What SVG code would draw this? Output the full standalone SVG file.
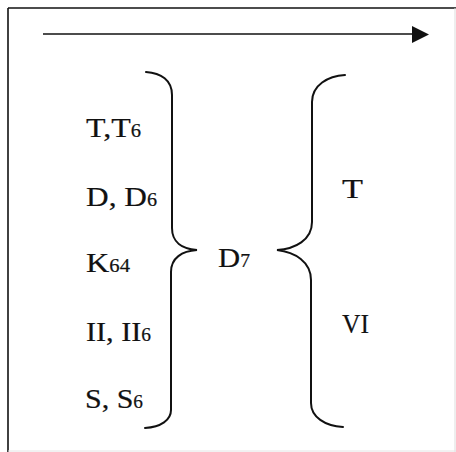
<svg xmlns="http://www.w3.org/2000/svg" width="456" height="452" viewBox="0 0 456 452">
<style>
.t{font-family:"Liberation Serif","Times New Roman",serif;font-size:28px;fill:#111;stroke:#111;stroke-width:0.2}
.s{font-size:18px}
.br{fill:none;stroke:#111;stroke-width:2;stroke-linecap:round}
</style>
<rect x="0" y="0" width="456" height="452" fill="#fff"/>
<g id="frame">
<line x1="8" y1="8" x2="456" y2="8" stroke="#111" stroke-width="1.6"/>
<line x1="8" y1="8" x2="8" y2="452" stroke="#111" stroke-width="1.6"/>
<line x1="455" y1="8" x2="455" y2="452" stroke="#ddd" stroke-width="1"/>
<line x1="8" y1="451" x2="456" y2="451" stroke="#e4e4e4" stroke-width="1"/>
</g>
<g id="connectors">
<line x1="43" y1="34" x2="414" y2="34" stroke="#111" stroke-width="1.6"/>
<polygon points="412,26 429,34.5 412,43" fill="#111"/>
<path class="br" d="M146,72 C161,73 172,80 172,95 L172,228 C172,242 182,249 197,250 C182,251 171,258 171,272 L171,410 C171,420 161,427 145,428"/>
<path class="br" d="M345,75 C328,76 312,85 312,102 L312,222 C312,240 295,249 277,250 C295,252 311,262 311,280 L311,403 C311,417 325,426 343,427"/>
</g>
<g id="n-T-T6"><text class="t" x="86" y="137" textLength="55" lengthAdjust="spacingAndGlyphs">T,T<tspan class="s">6</tspan></text></g>
<g id="n-D-D6"><text class="t" x="86" y="206" textLength="71" lengthAdjust="spacingAndGlyphs">D, D<tspan class="s">6</tspan></text></g>
<g id="n-K64"><text class="t" x="86" y="272" textLength="44" lengthAdjust="spacingAndGlyphs">K<tspan class="s">64</tspan></text></g>
<g id="n-II-II6"><text class="t" x="86" y="341" textLength="65" lengthAdjust="spacingAndGlyphs">II, II<tspan class="s">6</tspan></text></g>
<g id="n-S-S6"><text class="t" x="85" y="408" textLength="58" lengthAdjust="spacingAndGlyphs">S, S<tspan class="s">6</tspan></text></g>
<g id="n-D7"><text class="t" x="218" y="267" textLength="32" lengthAdjust="spacingAndGlyphs">D<tspan class="s">7</tspan></text></g>
<g id="n-T"><text class="t" x="342" y="198" textLength="21" lengthAdjust="spacingAndGlyphs">T</text></g>
<g id="n-VI"><text class="t" x="342" y="333" textLength="27" lengthAdjust="spacingAndGlyphs">VI</text></g>
</svg>
